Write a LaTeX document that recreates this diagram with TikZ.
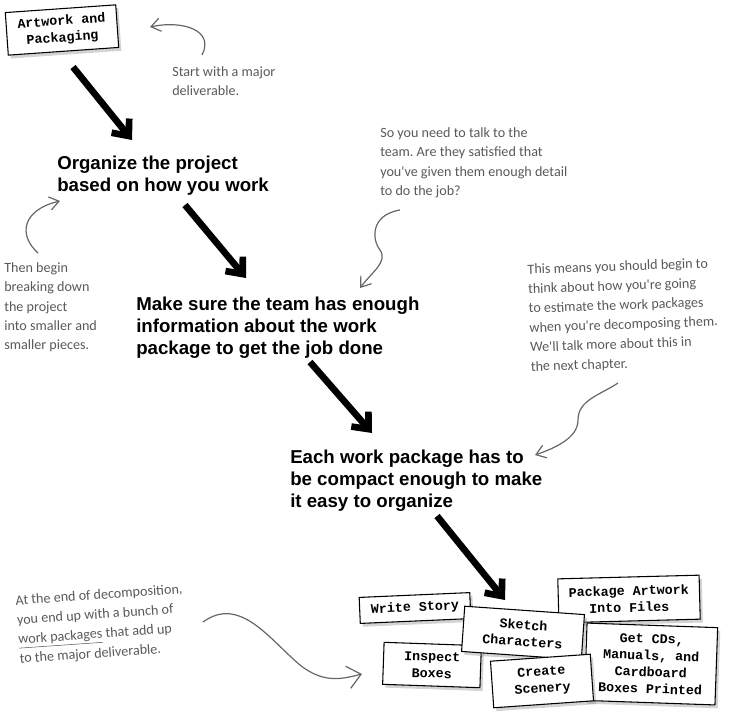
\documentclass[tikz,border=0pt]{standalone}
\usepackage{fontspec}
\setmainfont{Liberation Sans}
\setmonofont{Liberation Mono}
\newfontfamily\handfont{Carlito}
\usetikzlibrary{arrows.meta,positioning,shadows,calc}
\tikzset{
  wbox/.style={draw, thick, fill=white, align=center, inner sep=2pt, font=\ttfamily\bfseries\fontsize{10}{12.5}\selectfont, drop shadow={shadow xshift=2pt, shadow yshift=-2.5pt, opacity=0.35}},
  wstep/.style={font=\bfseries\fontsize{14}{16.5}\selectfont, align=left, anchor=north west, inner sep=0pt},
  wnote/.style={font=\handfont\frenchspacing\fontsize{10.6}{14.6}\selectfont, text=black!65, align=left, anchor=north west, inner sep=0pt},
  wbig/.style={line width=5pt, -{Straight Barb[length=10pt, width=17pt]}},
  wcurve/.style={black!60, line width=0.9pt, -{Straight Barb[length=7pt, width=10pt]}},
  wcurvebig/.style={wcurve, -{Straight Barb[length=10pt, width=17pt]}}
}
\begin{document}
\begin{tikzpicture}[x=0.75pt,y=-0.75pt]
\useasboundingbox (0,0) rectangle (730,721);

% the deliverable and the steps
\node[wbox, minimum width=83pt, minimum height=32pt, rotate=4] (art) at (62,30) {Artwork and\\Packaging};
\node[wstep] (org) at (57,156) {Organize the project\\based on how you work};
\node[wstep] (team) at (136,297) {Make sure the team has enough\\information about the work\\package to get the job done};
\node[wstep] (pack) at (290,450) {Each work package has to\\be compact enough to make\\it easy to organize};

% notes
\node[wnote] (start) at (172,66) {Start with a major\\deliverable.};
\node[wnote] (begin) at (4,262) {Then begin\\breaking down\\the project\\into smaller and\\smaller pieces.};
\node[wnote] (talk) at (380,127) {So you need to talk to the\\team. Are they satisfied that\\you've given them enough detail\\to do the job?};
\node[wnote, rotate=2] (est) at (527,264) {This means you should begin to\\think about how you're going\\to estimate the work packages\\when you're decomposing them.\\We'll talk more about this in\\the next chapter.};
\node[wnote, rotate=4] (end) at (15,595) {At the end of decomposition,\\you end up with a bunch of\\\underline{work packages} that add up\\to the major deliverable.};

% work packages
\node[wbox, minimum width=83pt, minimum height=19.5pt, rotate=2.5] (story) at (415,608) {Write Story};
\node[wbox, minimum width=106pt, minimum height=33pt, rotate=1.5] (files) at (629,599) {Package Artwork\\Into Files};
\node[wbox, minimum width=98pt, minimum height=58pt, rotate=-2] (print) at (651,664) {Get CDs,\\Manuals, and\\Cardboard\\Boxes Printed};
\node[wbox, minimum width=73pt, minimum height=31.5pt, rotate=-2] (inspect) at (432,665) {Inspect\\Boxes};
\node[wbox, minimum width=90pt, minimum height=34pt, rotate=-4] (sketch) at (523,633) {Sketch\\Characters};
\node[wbox, minimum width=75pt, minimum height=35pt, rotate=4] (scenery) at (542,681) {Create\\Scenery};

% arrow ends
\coordinate (art-out) at (73,67);
\coordinate (org-in) at (132,140);
\coordinate (org-out) at (185,205);
\coordinate (team-in) at (246,278);
\coordinate (team-out) at (310,362);
\coordinate (pack-in) at (372,433);
\coordinate (pack-out) at (437,516);
\coordinate (wp-in) at (505,600);

\draw[wbig] (art-out) -- (org-in);
\draw[wbig] (org-out) -- (team-in);
\draw[wbig] (team-out) -- (pack-in);
\draw[wbig] (pack-out) -- (wp-in);

% note pointers
\coordinate (start-p) at (202,55);
\coordinate (art-p) at (150,27);
\coordinate (begin-p) at (38,253);
\coordinate (org-p) at (60,201);
\coordinate (talk-p) at (400,210);
\coordinate (team-p) at (360,288);
\coordinate (est-p) at (618,383);
\coordinate (pack-p) at (535,455);
\coordinate (end-p) at (203,622);
\coordinate (wp-p) at (362,674);

\draw[wcurve] (start-p) .. controls (215,30) and (182,20) .. (art-p);
\draw[wcurve] (begin-p) .. controls (18,235) and (22,210) .. (org-p);
\draw[wcurve] (talk-p) .. controls (370,215) and (372,240) .. (380,250) .. controls (388,262) and (372,272) .. (team-p);
\draw[wcurve] (est-p) .. controls (600,395) and (578,400) .. (578,420) .. controls (578,438) and (555,448) .. (pack-p);
\draw[wcurvebig] (end-p) .. controls (240,595) and (270,640) .. (300,665) .. controls (325,685) and (345,678) .. (wp-p);
\end{tikzpicture}
\end{document}
